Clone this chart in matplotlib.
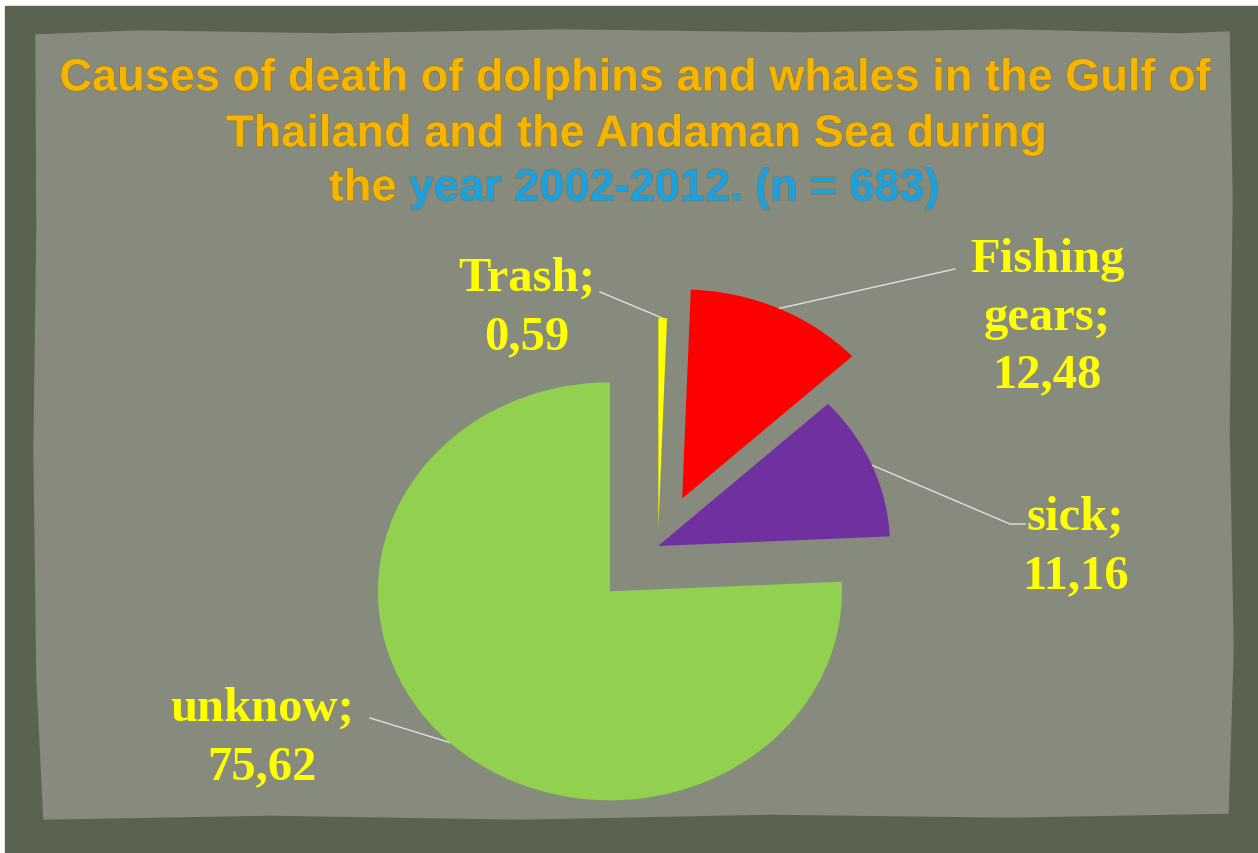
import numpy as np
import matplotlib.pyplot as plt
import matplotlib.patheffects as pe
from matplotlib.patches import Polygon, Rectangle

# data
labels = ["unknow", "sick", "Fishing\ngears", "Trash"]
values = [75.62, 11.16, 12.48, 0.59]
value_text = ["75,62", "11,16", "12,48", "0,59"]
colors = ["#92D050", "#7030A0", "#FF0000", "#FFFF00"]
explode = [0.30, 0.0, 0.25, 0.09]

title_1 = "Causes of death of dolphins and whales in the Gulf of"
title_2 = "Thailand and the Andaman Sea during"
title_3a = "the "
title_3b = "year 2002-2012. (n = 683)"

W, H = 1258, 854
fig = plt.figure(figsize=(W / 100, H / 100), dpi=100)
fig.patch.set_facecolor("white")

# background in pixel coordinates (y down)
bg = fig.add_axes([0, 0, 1, 1])
bg.set_xlim(0, W)
bg.set_ylim(H, 0)
bg.axis("off")
bg.add_patch(Rectangle((5, 7), W, H, color="#5a6350"))
panel = [(36, 36), (140, 32), (330, 35), (560, 31), (800, 34), (1010, 31),
         (1180, 35), (1229, 33), (1232, 200), (1229, 430), (1233, 650),
         (1228, 814), (1010, 818), (770, 815), (520, 820), (270, 816),
         (44, 820), (37, 680), (34, 450), (37, 230)]
bg.add_patch(Polygon(panel, closed=True, color="#878b7e"))

# pie
cx, cy = 658, 547   # pie centre, pixels from top-left
rx, ry = 232, 209   # radius in pixels (picture is stretched horizontally)
ax = fig.add_axes([0, 0, 1, 1])
ax.patch.set_alpha(0)
wedges, _ = ax.pie(values, colors=colors, explode=explode, startangle=90,
                   counterclock=True, wedgeprops=dict(linewidth=0))
ax.set_aspect("auto")
ax.set_xlim(-cx / rx, (W - cx) / rx)
ax.set_ylim(-(H - cy) / ry, cy / ry)

# labels with leader lines
text_xy = [(262, 738), (1075, 547), (1047, 318), (527, 308)]
leader_pts = [[(370, 719)], [(1010, 525), (1025, 525)], [(955, 270)], [(600, 293)]]
for w, lab, vt, txy, pts in zip(wedges, labels, value_text, text_xy, leader_pts):
    mid = np.deg2rad((w.theta1 + w.theta2) / 2)
    X = w.center[0] + w.r * np.cos(mid)
    Y = w.center[1] + w.r * np.sin(mid)
    anchor = (cx + X * rx, cy - Y * ry)
    xs = [anchor[0]] + [p[0] for p in pts]
    ys = [anchor[1]] + [p[1] for p in pts]
    bg.plot(xs, ys, color="#e0e0e0", lw=1, zorder=5)
    bg.text(txy[0], txy[1], lab + ";\n" + vt, ha="center", va="center",
            fontsize=35, fontweight="bold", family="Liberation Serif",
            color="#FFFF00", linespacing=1.4, zorder=6)

# title
orange, blue = "#F5B400", "#1BA1E2"
tfx = [pe.withStroke(linewidth=1, foreground="#8a7a40")]
tkw = dict(fontsize=32.5, fontweight="bold", family="Liberation Sans",
           ha="center", va="center", path_effects=tfx, zorder=6)
bg.text(634, 80, title_1, color=orange, **tkw)
bg.text(636, 136, title_2, color=orange, **tkw)

r = fig.canvas.get_renderer()
full = bg.text(634, 190, title_3a + title_3b, alpha=0, **tkw)
wfull = full.get_window_extent(r).width
full.remove()
kw3 = dict(tkw)
kw3.pop("ha")
bg.text(634 - wfull / 2, 190, title_3a, color=orange, ha="left", **kw3)
bg.text(634 + wfull / 2, 190, title_3b, color=blue, ha="right", **kw3)

fig.savefig("out.png", dpi=100)
